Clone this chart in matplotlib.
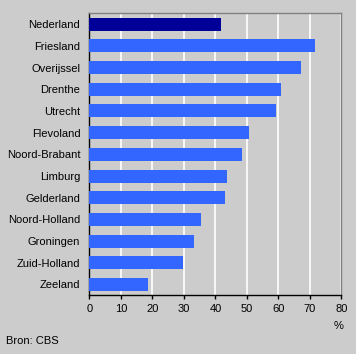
import matplotlib
matplotlib.use("Agg")
import matplotlib.pyplot as plt

# data
regions = ["Nederland", "Friesland", "Overijssel", "Drenthe", "Utrecht",
           "Flevoland", "Noord-Brabant", "Limburg", "Gelderland",
           "Noord-Holland", "Groningen", "Zuid-Holland", "Zeeland"]
values = [41.8, 71.6, 67.2, 60.9, 59.3, 50.7, 48.5, 43.7, 43.1,
          35.5, 33.2, 29.7, 18.5]
xticks = [0, 10, 20, 30, 40, 50, 60, 70, 80]

plt.rcParams['font.family'] = ['Liberation Sans', 'DejaVu Sans']
plt.rcParams['font.size'] = 8

fig = plt.figure(figsize=(3.56, 3.54), dpi=100, facecolor='#cccccc')
ax = fig.add_axes([0.251, 0.166, 0.708, 0.796])
ax.set_facecolor('#cccccc')

colors = ['#000099'] + ['#3366ff'] * (len(regions) - 1)
ypos = list(range(len(regions)))
ax.barh(ypos, values, height=0.6, color=colors, zorder=3)

ax.set_xlim(0, 80)
ax.set_ylim(len(regions) - 0.5, -0.5)
ax.set_xticks(xticks)
ax.set_yticks(ypos)
ax.set_yticklabels(regions)
ax.xaxis.grid(True, color='white', linewidth=1.2, zorder=1)
ax.set_axisbelow(True)

ax.tick_params(axis='y', length=0, pad=6.5, colors='black')
ax.tick_params(axis='x', length=3, width=1, pad=3, colors='black')

for side in ['top', 'right']:
    ax.spines[side].set_color('#808080')
    ax.spines[side].set_linewidth(1)
for side in ['left', 'bottom']:
    ax.spines[side].set_color('black')
    ax.spines[side].set_linewidth(1)

fig.text(0.952, 0.08, '%', ha='center', va='center', fontsize=8)
fig.text(0.017, 0.037, 'Bron: CBS', ha='left', va='center', fontsize=8)

fig.savefig('out.png', dpi=100, facecolor=fig.get_facecolor())
